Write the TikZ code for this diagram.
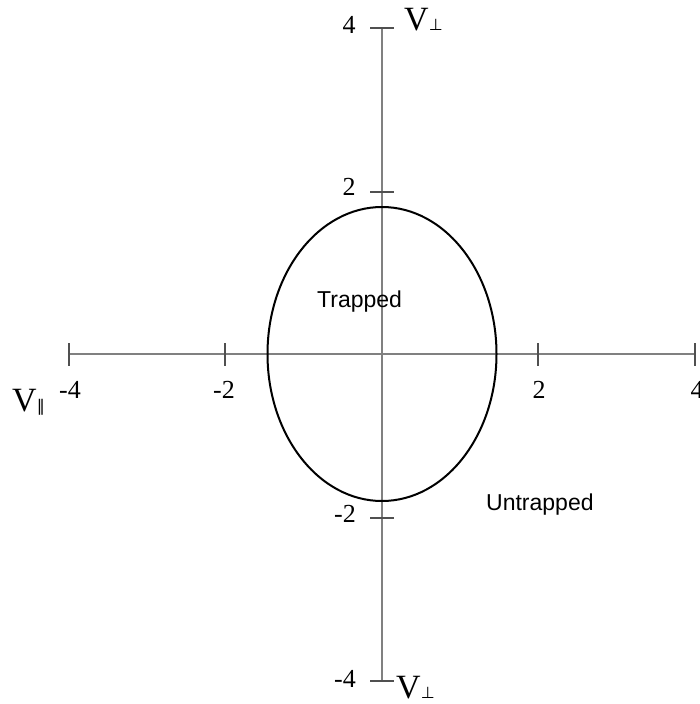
\documentclass[tikz,border=0pt]{standalone}
\usepackage{fontspec}
\setmainfont{Liberation Serif}
\setsansfont{Liberation Sans}
\newfontfamily\symfont{DejaVu Sans}
\newcommand\mysubfont{\symfont\fontsize{16}{16}\selectfont}
\definecolor{axisgray}{HTML}{808080}
\definecolor{tickgray}{HTML}{505050}
\begin{document}
\begin{tikzpicture}[x=1pt,y=-1pt,
  axisline/.style={draw=axisgray,line width=1.4pt},
  tickline/.style={draw=tickgray,line width=1.4pt},
  num/.style={font=\fontsize{26}{26}\selectfont,inner sep=0pt},
  vlab/.style={font=\fontsize{34}{34}\selectfont,inner sep=0pt,anchor=base west},
  region/.style={font=\sffamily\fontsize{23}{23}\selectfont,inner sep=0pt,anchor=base west}]
\useasboundingbox (0,0) rectangle (699,704);
% axis ends
\coordinate (xl) at (69,354);
\coordinate (xr) at (695,354);
\coordinate (yt) at (382,28);
\coordinate (yb) at (382,681);
\coordinate (o) at (382,354);
\draw[axisline] (xl) -- (xr);
\draw[axisline] (yt) -- (yb);
% x ticks
\coordinate (tx1) at (69,354);
\coordinate (tx2) at (225,354);
\coordinate (tx3) at (538,354);
\coordinate (tx4) at (695,354);
\foreach \t in {tx1,tx2,tx3,tx4}
  \draw[tickline] ([yshift=-11.5pt]\t) -- ([yshift=11.5pt]\t);
% y ticks
\coordinate (ty1) at (382,28);
\coordinate (ty2) at (382,192);
\coordinate (ty3) at (382,518);
\coordinate (ty4) at (382,681);
\foreach \t in {ty1,ty2,ty3,ty4}
  \draw[tickline] ([xshift=-12pt]\t) -- ([xshift=12pt]\t);
% ellipse
\draw[black,line width=2pt] (o) ellipse [x radius=114.5pt, y radius=147pt];
% x labels
\node[num] (lxm4) at (70,390) {-4};
\node[num] (lxm2) at (224,390) {-2};
\node[num] (lx2) at (539,390) {2};
\node[num] (lx4) at (697,390) {4};
% y labels
\node[num] (ly4) at (349,25) {4};
\node[num] (ly2) at (349,187) {2};
\node[num] (lym2) at (345,514) {-2};
\node[num] (lym4) at (345,679) {-4};
% variable labels
\node[vlab] (vtop) at (404,30) {V{\mysubfont\char"22A5}};
\node[vlab] (vbot) at (396,698) {V{\mysubfont\char"22A5}};
\node[vlab] (vpar) at (12,411) {V{\mysubfont\char"2016}};
% region labels
\node[region] (trap) at (317,307) {Trapped};
\node[region] (untrap) at (486,510) {Untrapped};
\end{tikzpicture}
\end{document}
